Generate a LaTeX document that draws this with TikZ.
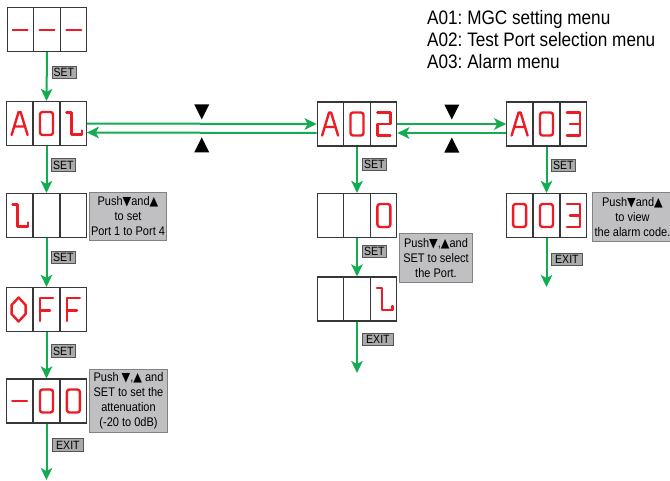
\documentclass[tikz,border=0pt]{standalone}
\usepackage{fontspec}
\setmainfont[FakeStretch=0.88]{Liberation Sans}
\newfontfamily\symfont[FakeStretch=0.9]{DejaVu Sans}
\usetikzlibrary{arrows.meta,calc}
\frenchspacing

\definecolor{segred}{RGB}{237,28,36}
\definecolor{flowgreen}{RGB}{20,172,80}
\definecolor{framegray}{RGB}{55,55,55}
\definecolor{keygray}{RGB}{170,170,170}
\definecolor{keyline}{RGB}{85,85,85}
\definecolor{notefill}{RGB}{192,192,194}
\definecolor{noteline}{RGB}{130,130,130}

\newcommand{\keyfont}{\fontsize{12}{12}\selectfont}
\newcommand{\notefont}{\fontsize{12.5}{15}\selectfont}
\newcommand{\dn}{{\symfont ▼}}
\newcommand{\up}{{\symfont ▲}}

\tikzset{
  disp/.style = {draw=framegray, line width=1.2pt, fill=white, minimum width=79.5pt, minimum height=44pt, inner sep=0pt},
  seg/.style = {draw=segred, line width=2.4pt, line cap=round, line join=round},
  flow/.style = {draw=flowgreen, line width=2pt, -{Stealth[length=12pt, width=11.5pt, inset=3pt]}},
  key/.style = {draw=keyline, fill=keygray, line width=0.8pt, inner sep=0pt, minimum height=12.5pt, font=\keyfont},
  note/.style = {draw=noteline, fill=notefill, line width=1pt, align=center, inner sep=0pt, anchor=north west, font=\notefont},
}

% a display with three cells: name, centre
\newcommand{\display}[2]{%
  \node[disp] (#1) at (#2) {};
  \foreach \k in {1,2} {
    \draw[framegray, line width=1.2pt] ($(#1.north west)!\k/3!(#1.north east)$) -- ($(#1.south west)!\k/3!(#1.south east)$);
  }
  \coordinate (#1-1) at ($(#1.west)!1/6!(#1.east)$);
  \coordinate (#1-2) at ($(#1.west)!3/6!(#1.east)$);
  \coordinate (#1-3) at ($(#1.west)!5/6!(#1.east)$);
}

% segment glyphs
\newcommand{\gDash}[1]{\draw[seg, line width=2pt, shift={(#1)}] (-7.5,0) -- (7.5,0);}
\newcommand{\gA}[1]{\draw[seg, shift={(#1)}] (-8,11.5) -- (-1,-11.5) -- (1,-11.5) -- (8,11.5) (-5.4,3) -- (5.4,3);}
\newcommand{\gZero}[1]{\draw[seg, rounded corners=2.5pt, shift={(#1)}] (-6.5,-11.5) rectangle (6.5,11.5);}
\newcommand{\gOne}[1]{\draw[seg, shift={(#1)}] (-7,-11) -- (-2,-11) -- (-2,11) -- (8.5,11) -- (8.5,7);}
\newcommand{\gTwo}[1]{\draw[seg, shift={(#1)}] (-6.5,-11.5) -- (6.5,-11.5) -- (6.5,0) -- (-6.5,0) -- (-6.5,11.5) -- (6.5,11.5);}
\newcommand{\gThree}[1]{\draw[seg, shift={(#1)}] (-6.5,-11.5) -- (6.5,-11.5) -- (6.5,11.5) -- (-6.5,11.5) (-3.5,0) -- (6.5,0);}
\newcommand{\gO}[1]{\draw[seg, shift={(#1)}] (-1,-12) -- (6,-4.5) -- (6,4.5) -- (-1,12) -- (-8,4.5) -- (-8,-4.5) -- cycle;}
\newcommand{\gF}[1]{\draw[seg, shift={(#1)}] (-6.5,11.5) -- (-6.5,-11.5) -- (6.5,-11.5) (-6.5,1) -- (3.5,1);}

\begin{document}
\begin{tikzpicture}[x=1pt, y=-1pt]
  \useasboundingbox (0,0) rectangle (670,480);

  % legend
  \node[anchor=north west, inner sep=0pt, align=left, font=\fontsize{19.5}{22}\selectfont] (legend) at (427,10)
    {A01: MGC setting menu\\A02: Test Port selection menu\\A03: Alarm menu};

  % displays
  \display{dsh}{47,29.5}
  \display{a01}{46.5,123.5}
  \display{p1}{46.5,215.5}
  \display{off}{46.5,309.5}
  \display{att}{46.5,401}
  \display{a02}{357,124}
  \display{pt0}{357,215.5}
  \display{pt1}{357,299}
  \display{a03}{546.5,124}
  \display{alm}{546.5,215.5}

  \gDash{dsh-1} \gDash{dsh-2} \gDash{dsh-3}
  \gA{a01-1} \gZero{a01-2} \gOne{a01-3}
  \gOne{p1-1}
  \gO{off-1} \gF{off-2} \gF{off-3}
  \gDash{att-1} \gZero{att-2} \gZero{att-3}
  \gA{a02-1} \gZero{a02-2} \gTwo{a02-3}
  \gZero{pt0-3}
  \gOne{pt1-3}
  \gA{a03-1} \gZero{a03-2} \gThree{a03-3}
  \gZero{alm-1} \gZero{alm-2} \gThree{alm-3}

  % vertical flow
  \coordinate (end1) at (46.5,480);
  \coordinate (end2) at (357,373);
  \coordinate (end3) at (546.5,287);
  \draw[flow] (dsh.south) -- (a01.north);
  \draw[flow] (a01.south) -- (p1.north);
  \draw[flow] (p1.south) -- (off.north);
  \draw[flow] (off.south) -- (att.north);
  \draw[flow] (att.south) -- (end1);
  \draw[flow] (a02.south) -- (pt0.north);
  \draw[flow] (pt0.south) -- (pt1.north);
  \draw[flow] (pt1.south) -- (end2);
  \draw[flow] (a03.south) -- (alm.north);
  \draw[flow] (alm.south) -- (end3);

  % menu switching
  \draw[flow] (a01.east) -- (a02.west);
  \draw[flow] ([yshift=-9pt]a02.west) -- ([yshift=-9pt]a01.east);
  \draw[flow] (a02.east) -- (a03.west);
  \draw[flow] ([yshift=-9pt]a03.west) -- ([yshift=-9pt]a02.east);
  \foreach \l/\r in {a01/a02, a02/a03} {
    \coordinate (m) at ($(\l.east)!0.5!(\r.west)$);
    \fill[shift={(m)}] (-7.5,-19.5) -- (7.5,-19.5) -- (0,-4.5) -- cycle;
    \fill[shift={(m)}] (-7.5,28.5) -- (7.5,28.5) -- (0,13.5) -- cycle;
  }

  % keys
  \node[key, anchor=west, minimum width=24pt] (k1) at ([xshift=4.5pt, yshift=-20.5pt]dsh.south) {SET};
  \node[key, anchor=west, minimum width=24pt] (k2) at ([xshift=4.5pt, yshift=-19pt]a01.south) {SET};
  \node[key, anchor=west, minimum width=24pt] (k3) at ([xshift=4.5pt, yshift=-19.5pt]p1.south) {SET};
  \node[key, anchor=west, minimum width=24pt] (k4) at ([xshift=4.5pt, yshift=-19pt]off.south) {SET};
  \node[key, anchor=west, minimum width=31pt] (x1) at ([xshift=5.5pt, yshift=-21.5pt]att.south) {EXIT};
  \node[key, anchor=west, minimum width=24pt] (k5) at ([xshift=5pt, yshift=-18pt]a02.south) {SET};
  \node[key, anchor=west, minimum width=24pt] (k6) at ([xshift=5pt, yshift=-13.5pt]pt0.south) {SET};
  \node[key, anchor=west, minimum width=31pt] (x2) at ([xshift=5pt, yshift=-18pt]pt1.south) {EXIT};
  \node[key, anchor=west, minimum width=24pt] (k7) at ([xshift=4.5pt, yshift=-19pt]a03.south) {SET};
  \node[key, anchor=west, minimum width=31pt] (x3) at ([xshift=4.5pt, yshift=-21.5pt]alm.south) {EXIT};

  % notes
  \node[note, minimum width=77pt, minimum height=48pt] (n1) at (89,192) {Push\dn and\up\\to set\\Port 1 to Port 4};
  \node[note, minimum width=73pt, minimum height=49pt] (n2) at (399,233) {Push\dn,\up and\\SET to select\\the Port.};
  \node[note, minimum width=80pt, minimum height=49pt] (n3) at (592,192) {Push\dn and\up\\to view\\the alarm code.};
  \node[note, minimum width=78pt, minimum height=63pt] (n4) at (89,369) {Push \dn,\up{} and\\SET to set the\\attenuation\\(-20 to 0dB)};
\end{tikzpicture}
\end{document}
